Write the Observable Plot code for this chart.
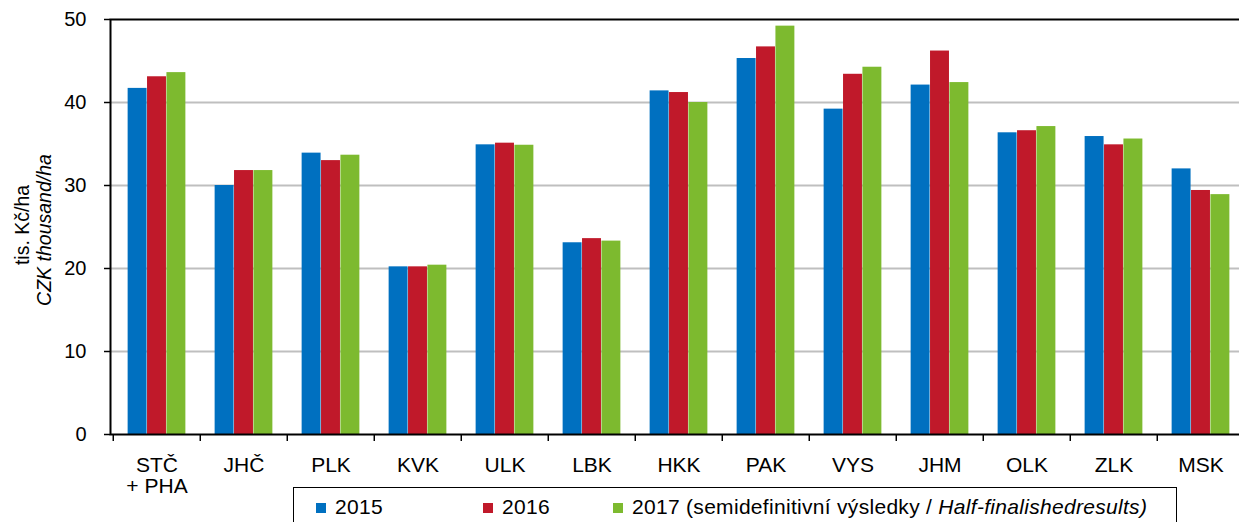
<!DOCTYPE html>
<html>
<head>
<meta charset="utf-8">
<script src="https://cdn.jsdelivr.net/npm/d3@7"></script>
<script src="https://cdn.jsdelivr.net/npm/@observablehq/plot@0.6"></script>
<style>
  html, body { margin: 0; padding: 0; background: #fff; overflow: hidden; }
  body { font-family: "Liberation Sans", Arial, Helvetica, sans-serif; }
  #wrap { position: relative; width: 1239px; height: 522px; overflow: hidden; }
  #chart svg { display: block; }
  #legend { position: relative; margin-top: -13px; margin-left: 293px; width: 884px; height: 60px;
            border: 1.5px solid #000; box-sizing: border-box; background: #fff; }
  #legend .item { position: absolute; top: 8px; font-size: 21px; line-height: 22px;
                  white-space: nowrap; color: #000; letter-spacing: 0.3px; }
  #legend .sw { display: inline-block; width: 10px; height: 10px; margin-right: 9px;
                vertical-align: 1px; }
</style>
</head>
<body>
<div id="wrap">
  <div id="chart"></div>
  <div id="legend"></div>
</div>
<script>
const regions = ["STČ\n+ PHA","JHČ","PLK","KVK","ULK","LBK","HKK","PAK","VYS","JHM","OLK","ZLK","MSK"];
const years = ["2015","2016","2017"];
const v2015 = [41.7, 30.0, 33.9, 20.2, 34.9, 23.1, 41.4, 45.3, 39.2, 42.1, 36.35, 35.9, 32.0];
const v2016 = [43.1, 31.8, 33.0, 20.2, 35.1, 23.6, 41.2, 46.7, 43.4, 46.2, 36.6, 34.9, 29.4];
const v2017 = [43.6, 31.8, 33.65, 20.4, 34.85, 23.3, 40.0, 49.2, 44.25, 42.4, 37.1, 35.6, 28.9];
const colors = ["#0070c0", "#c0192a", "#7dba2f"];
const yTicks = [0, 10, 20, 30, 40, 50];
const gridTicks = [10, 20, 30, 40];
const yLabel1 = "tis. Kč/ha";
const yLabel2 = "CZK thousand/ha";
const legendPlain = ["2015", "2016", "2017 (semidefinitivní výsledky /"];
const legendItalic = ["", "", " Half-finalishedresults)"];

const FONT = '"Liberation Sans", Arial, Helvetica, sans-serif';
const W = 1239, H = 500, ML = 110, MR = -8, MT = 19, MB = 66;
const step = (W - MR - ML) / regions.length;
const bw = 19.4;
const off = (step - 3 * bw) / 2;
const series = [v2015, v2016, v2017];

const bars = series.map((vals, i) =>
  Plot.barY(regions.map((r, j) => ({region: r, year: years[i], value: vals[j]})), {
    x: "region", y: "value", fill: colors[i],
    insetLeft: off + i * bw, insetRight: step - off - (i + 1) * bw
  })
);

const chart = Plot.plot({
  width: W, height: H,
  marginLeft: ML, marginRight: MR, marginTop: MT, marginBottom: MB,
  style: {fontFamily: FONT, fontSize: "20px", color: "#000", background: "#fff", overflow: "hidden"},
  x: {domain: regions, padding: 0, label: null},
  y: {domain: [0, 50], label: null},
  marks: [
    Plot.gridY(gridTicks, {stroke: "#bfbfbf", strokeOpacity: 1, strokeWidth: 2}),
    ...bars,
    Plot.frame({stroke: "#000", strokeWidth: 2}),
    Plot.axisY(yTicks, {tickSize: 6, tickPadding: 18, strokeWidth: 1.5, fontSize: 20, label: null}),
    Plot.axisX({tickSize: 7, dx: -step / 2, text: null, strokeWidth: 1.5, label: null}),
    Plot.axisX({tickSize: 0, tickPadding: 22, lineHeight: 1.02, fontSize: 21, label: null}),
    Plot.text([yLabel1], {text: d => d, frameAnchor: "left", textAnchor: "middle", rotate: -90, dx: -88, dy: -2, fontSize: 19.5}),
    Plot.text([yLabel2], {text: d => d, frameAnchor: "left", textAnchor: "middle", rotate: -90, dx: -66, dy: 3, fontSize: 19.5, fontStyle: "italic"})
  ]
});
document.getElementById("chart").appendChild(chart);

const legend = document.getElementById("legend");
const lefts = [22, 189, 319];
years.forEach((y, i) => {
  const it = document.createElement("div");
  it.className = "item";
  it.style.left = lefts[i] + "px";
  const sw = document.createElement("span");
  sw.className = "sw";
  sw.style.background = colors[i];
  it.appendChild(sw);
  it.appendChild(document.createTextNode(legendPlain[i]));
  if (legendItalic[i]) {
    const em = document.createElement("i");
    em.textContent = legendItalic[i];
    it.appendChild(em);
  }
  legend.appendChild(it);
});
</script>
</body>
</html>
